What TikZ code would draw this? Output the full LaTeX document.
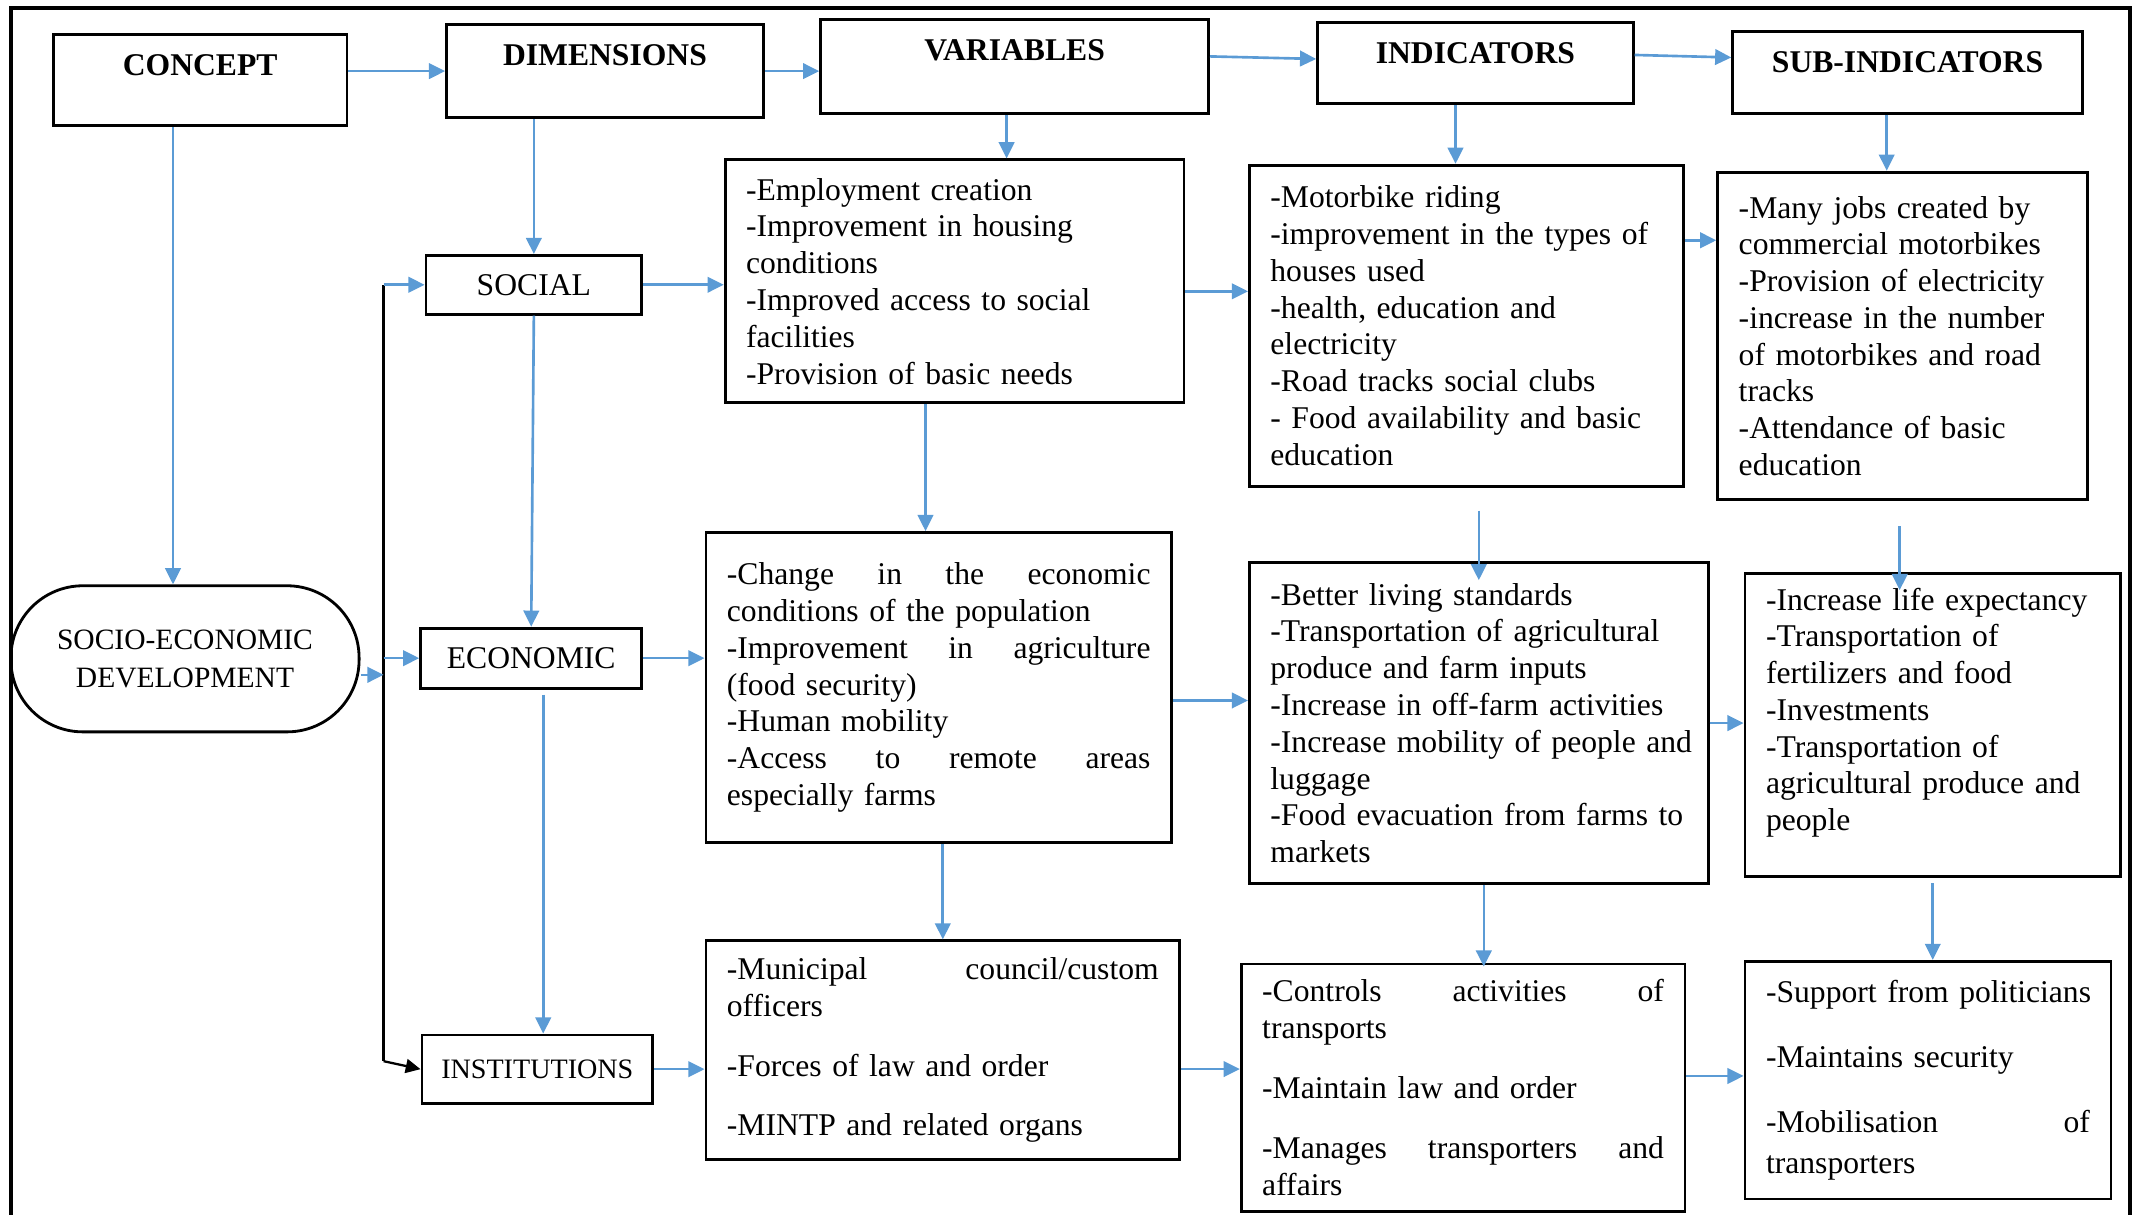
\documentclass[tikz,border=0pt]{standalone}
\usepackage{fontspec}
\setmainfont{Liberation Serif}
\usetikzlibrary{calc, arrows.meta}
\definecolor{arrowblue}{RGB}{91,155,213}

\begin{document}
\begin{tikzpicture}[
    head/.style={draw, line width=0.85pt, anchor=north west, inner sep=0pt, text height=0.41cm, font=\fontsize{9}{11}\selectfont\bfseries},
    dimbox/.style={draw, line width=0.8pt, anchor=north west, inner sep=0pt, font=\fontsize{9}{11}\selectfont},
    box/.style={draw, line width=0.8pt, anchor=north west, align=left, inner xsep=0.21cm, inner ysep=0pt, font=\fontsize{9}{10.46}\selectfont},
    arr/.style={draw=arrowblue, line width=0.75pt, -{Triangle[length=4.6pt, width=4.4pt]}},
    blk/.style={draw=black, line width=0.65pt, -{Triangle[length=4.2pt, width=4pt]}}
]
    \useasboundingbox (0,0) rectangle (21.41,-12.14);
    \draw[line width=1.2pt] (0.109,-12.4) -- (0.109,-0.082) -- (21.30,-0.082) -- (21.30,-12.4);

    \node[head, minimum width=2.936cm, text depth=0.505cm] (concept) at (0.519,-0.328) {CONCEPT};
    \node[head, minimum width=3.168cm, text depth=0.518cm] (dim) at (4.451,-0.232) {DIMENSIONS};
    \node[head, minimum width=3.878cm, text depth=0.532cm] (var) at (8.192,-0.178) {VARIABLES};
    \node[head, minimum width=3.154cm, text depth=0.409cm] (ind) at (13.162,-0.205) {INDICATORS};
    \node[head, minimum width=3.495cm, text depth=0.409cm] (sub) at (17.313,-0.300) {SUB-INDICATORS};

    \node[draw, line width=0.8pt, rounded corners=0.72cm, minimum width=3.482cm, minimum height=1.461cm, align=center, font=\fontsize{8.4}{10.8}\selectfont] (socio) at (1.850,-6.588) {SOCIO-ECONOMIC\\DEVELOPMENT};

    \node[dimbox, minimum width=2.157cm, minimum height=0.587cm] (social) at (4.246,-2.540) {SOCIAL};
    \node[dimbox, minimum width=2.212cm, minimum height=0.601cm] (eco) at (4.192,-6.267) {ECONOMIC};
    \node[dimbox, minimum width=2.308cm, minimum height=0.683cm, font=\fontsize{8}{10}\selectfont] (inst) at (4.205,-10.336) {INSTITUTIONS};

    \node[box, text width=4.168cm, minimum height=2.430cm] (v1) at (7.237,-1.584) {-Employment creation\\-Improvement in housing\\conditions\\-Improved access to social\\facilities\\-Provision of basic needs};
    \node[box, text width=4.236cm, minimum height=3.099cm] (v2) at (7.045,-5.311) {-Change\hfill in\hfill the\hfill economic\\conditions of the population\\-Improvement\hfill in\hfill agriculture\\(food security)\\-Human mobility\\-Access\hfill to\hfill remote\hfill areas\\especially farms};
    \node[box, text width=4.318cm, minimum height=2.185cm] (v3) at (7.045,-9.394) {-Municipal\hfill council/custom\\officers\\[6.6pt]-Forces of law and order\\[6.6pt]-MINTP and related organs};

    \node[box, text width=3.922cm, minimum height=3.209cm] (i1) at (12.480,-1.638) {-Motorbike riding\\-improvement in the types of\\houses used\\-health, education and\\electricity\\-Road tracks social clubs\\- Food availability and basic\\education};
    \node[box, text width=4.168cm, minimum height=3.209cm] (i2) at (12.480,-5.612) {-Better living standards\\-Transportation of agricultural\\produce and farm inputs\\-Increase in off-farm activities\\\mbox{-Increase mobility of people and}\\luggage\\-Food evacuation from farms to\\markets};
    \node[box, text width=4.018cm, minimum height=2.471cm] (i3) at (12.398,-9.626) {-Controls\hfill activities\hfill of\\transports\\[6.6pt]-Maintain law and order\\[6.6pt]-Manages\hfill transporters\hfill and\\affairs};

    \node[box, text width=3.280cm, minimum height=3.277cm] (s1) at (17.163,-1.707) {-Many jobs created by\\commercial motorbikes\\-Provision of electricity\\-increase in the number\\of motorbikes and road\\tracks\\-Attendance of basic\\education};
    \node[box, text width=3.335cm, minimum height=3.031cm] (s2) at (17.436,-5.721) {-Increase life expectancy\\-Transportation of\\fertilizers and food\\-Investments\\-Transportation of\\agricultural produce and\\people\\[-1.5pt]\mbox{}};
    \node[box, text width=3.239cm, minimum height=2.376cm] (s3) at (17.436,-9.599) {\mbox{-Support from politicians}\\[8.1pt]-Maintains security\\[8.1pt]-Mobilisation\hfill of\\[1pt]transporters};

    \draw[arr] (concept.east |- dim.west) -- (dim.west);
    \draw[arr] (dim.east) -- (dim.east -| var.west);
    \draw[arr] ($(var.east)+(0,0.1)$) -- ($(ind.west)+(0,0.04)$);
    \draw[arr] ($(ind.east)+(0,0.08)$) -- ($(sub.west)+(0,0.15)$);

    \draw[arr] ($(concept.south -| socio.north)+(-0.12,0)$) -- ($(socio.north)+(-0.12,0)$);
    \draw[arr] (dim.south -| social.north) -- (social.north);
    \draw[arr] ($(var.south)+(-0.08,0)$) -- ($(var.south |- v1.north)+(-0.08,0)$);
    \draw[arr] ($(ind.south -| i1.north)+(-0.11,0)$) -- ($(i1.north)+(-0.11,0)$);
    \draw[arr] ($(sub.south -| s1.north)+(-0.16,0)$) -- ($(s1.north)+(-0.16,0)$);

    \draw[arr] (social.south) -- (eco.north);
    \draw[arr] ($(eco.south)+(0.12,-0.05)$) -- ($(eco.south |- inst.north)+(0.12,0)$);
    \draw[arr] ($(v1.south)+(-0.29,0)$) -- ($(v1.south |- v2.north)+(-0.29,0)$);
    \draw[arr] (v2.south -| v3.north) -- (v3.north);
    \draw[arr] ($(i1.south -| i2.north)+(0,-0.23)$) -- ($(i2.north)+(0,-0.19)$);
    \draw[arr] ($(i2.south)+(0.05,0)$) -- ($(i2.south |- i3.north)+(0.05,-0.04)$);
    \draw[arr] ($(s1.south)+(-0.03,-0.25)$) -- ($(s1.south |- s2.north)+(-0.03,-0.18)$);
    \draw[arr] ($(s2.south)+(0,-0.05)$) -- (s2.south |- s3.north);

    \draw[arr] (social.east) -- (social.east -| v1.west);
    \draw[arr] (eco.east) -- (eco.east -| v2.west);
    \draw[arr] (inst.east) -- (inst.east -| v3.west);
    \draw[arr] ($(v1.east)+(0,-0.1)$) -- ($(v1.east -| i1.west)+(0,-0.1)$);
    \draw[arr] ($(v2.east)+(0,-0.13)$) -- ($(v2.east -| i2.west)+(0,-0.13)$);
    \draw[arr] ($(v3.east)+(0,-0.19)$) -- ($(v3.east -| i3.west)+(0,-0.19)$);
    \draw[arr] ($(i1.east)+(0,0.854)$) -- ($(i1.east -| s1.west)+(0,0.854)$);
    \draw[arr] (i2.east) -- (i2.east -| s2.west);
    \draw[arr] ($(i3.east)+(0,0.116)$) -- ($(i3.east -| s3.west)+(0,0.116)$);

    \coordinate (ltop) at ($(social.west)+(-0.41,0)$);
    \coordinate (lbot) at ($(ltop |- inst.west)+(0,0.08)$);
    \draw[line width=0.65pt] (ltop) -- (lbot);
    \draw[arr] (ltop) -- (social.west);
    \draw[blk] (lbot) -- (inst.west);
    \draw[arr] ($(socio.east)+(0,-0.16)$) -- ($(socio.east -| ltop)+(0,-0.16)$);
    \draw[arr] (ltop |- eco.west) -- (eco.west);
\end{tikzpicture}
\end{document}
